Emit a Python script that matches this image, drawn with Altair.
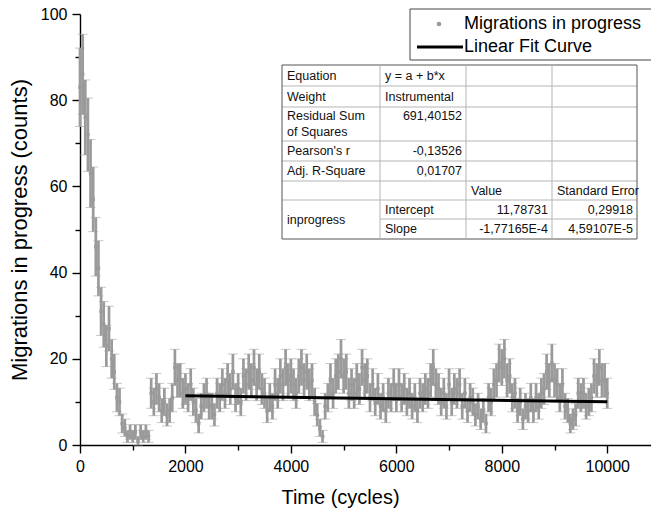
import altair as alt
import pandas as pd

# ---------------- data ----------------
time_cycles = [
    0, 50, 100, 150, 200, 250, 300, 350, 400, 450,
    500, 550, 600, 650, 700, 750, 800, 850, 900, 950,
    1000, 1050, 1100, 1150, 1200, 1250, 1300, 1350, 1400, 1450,
    1500, 1550, 1600, 1650, 1700, 1750, 1800, 1850, 1900, 1950,
    2000, 2050, 2100, 2150, 2200, 2250, 2300, 2350, 2400, 2450,
    2500, 2550, 2600, 2650, 2700, 2750, 2800, 2850, 2900, 2950,
    3000, 3050, 3100, 3150, 3200, 3250, 3300, 3350, 3400, 3450,
    3500, 3550, 3600, 3650, 3700, 3750, 3800, 3850, 3900, 3950,
    4000, 4050, 4100, 4150, 4200, 4250, 4300, 4350, 4400, 4450,
    4500, 4550, 4600, 4650, 4700, 4750, 4800, 4850, 4900, 4950,
    5000, 5050, 5100, 5150, 5200, 5250, 5300, 5350, 5400, 5450,
    5500, 5550, 5600, 5650, 5700, 5750, 5800, 5850, 5900, 5950,
    6000, 6050, 6100, 6150, 6200, 6250, 6300, 6350, 6400, 6450,
    6500, 6550, 6600, 6650, 6700, 6750, 6800, 6850, 6900, 6950,
    7000, 7050, 7100, 7150, 7200, 7250, 7300, 7350, 7400, 7450,
    7500, 7550, 7600, 7650, 7700, 7750, 7800, 7850, 7900, 7950,
    8000, 8050, 8100, 8150, 8200, 8250, 8300, 8350, 8400, 8450,
    8500, 8550, 8600, 8650, 8700, 8750, 8800, 8850, 8900, 8950,
    9000, 9050, 9100, 9150, 9200, 9250, 9300, 9350, 9400, 9450,
    9500, 9550, 9600, 9650, 9700, 9750, 9800, 9850, 9900, 9950,
    10000,
]

in_progress = [
    83, 86, 76, 72, 63, 57, 46, 41, 31, 28,
    23, 27, 20, 17, 11, 10, 5, 4, 2, 3,
    2, 3, 1, 3, 2, 3, 2, 12, 10, 13,
    11, 8, 10, 7, 8, 11, 18, 15, 15, 12,
    13, 11, 14, 10, 8, 5, 9, 11, 12, 9,
    9, 7, 12, 11, 14, 12, 15, 13, 17, 11,
    13, 10, 16, 14, 17, 15, 18, 14, 17, 13,
    12, 8, 11, 9, 14, 12, 16, 14, 18, 15,
    16, 14, 12, 16, 18, 15, 17, 14, 15, 10,
    7, 4, 2, 9, 11, 15, 12, 16, 17, 20,
    16, 17, 12, 14, 12, 15, 13, 18, 15, 16,
    11, 14, 10, 13, 9, 11, 8, 12, 11, 14,
    11, 14, 11, 13, 10, 12, 9, 11, 8, 12,
    11, 13, 12, 15, 18, 14, 13, 10, 12, 9,
    14, 10, 13, 12, 14, 9, 12, 8, 11, 10,
    7, 9, 6, 8, 5, 11, 10, 14, 15, 19,
    18, 20, 15, 16, 11, 12, 8, 10, 6, 9,
    8, 11, 8, 11, 9, 12, 13, 17, 15, 19,
    15, 14, 11, 14, 9, 8, 5, 6, 7, 12,
    11, 12, 9, 10, 11, 16, 15, 18, 15, 15,
    12,
]

in_progress_err = [
    9.1, 9.3, 8.7, 8.5, 7.9, 7.5, 6.8, 6.4, 5.6, 5.3,
    4.8, 5.2, 4.5, 4.1, 3.3, 3.2, 2.2, 2.0, 1.4, 1.7,
    1.4, 1.7, 1.0, 1.7, 1.4, 1.7, 1.4, 3.5, 3.2, 3.6,
    3.3, 2.8, 3.2, 2.6, 2.8, 3.3, 4.2, 3.9, 3.9, 3.5,
    3.6, 3.3, 3.7, 3.2, 2.8, 2.2, 3.0, 3.3, 3.5, 3.0,
    3.0, 2.6, 3.5, 3.3, 3.7, 3.5, 3.9, 3.6, 4.1, 3.3,
    3.6, 3.2, 4.0, 3.7, 4.1, 3.9, 4.2, 3.7, 4.1, 3.6,
    3.5, 2.8, 3.3, 3.0, 3.7, 3.5, 4.0, 3.7, 4.2, 3.9,
    4.0, 3.7, 3.5, 4.0, 4.2, 3.9, 4.1, 3.7, 3.9, 3.2,
    2.6, 2.0, 1.4, 3.0, 3.3, 3.9, 3.5, 4.0, 4.1, 4.5,
    4.0, 4.1, 3.5, 3.7, 3.5, 3.9, 3.6, 4.2, 3.9, 4.0,
    3.3, 3.7, 3.2, 3.6, 3.0, 3.3, 2.8, 3.5, 3.3, 3.7,
    3.3, 3.7, 3.3, 3.6, 3.2, 3.5, 3.0, 3.3, 2.8, 3.5,
    3.3, 3.6, 3.5, 3.9, 4.2, 3.7, 3.6, 3.2, 3.5, 3.0,
    3.7, 3.2, 3.6, 3.5, 3.7, 3.0, 3.5, 2.8, 3.3, 3.2,
    2.6, 3.0, 2.4, 2.8, 2.2, 3.3, 3.2, 3.7, 3.9, 4.4,
    4.2, 4.5, 3.9, 4.0, 3.3, 3.5, 2.8, 3.2, 2.4, 3.0,
    2.8, 3.3, 2.8, 3.3, 3.0, 3.5, 3.6, 4.1, 3.9, 4.4,
    3.9, 3.7, 3.3, 3.7, 3.0, 2.8, 2.2, 2.4, 2.6, 3.5,
    3.3, 3.5, 3.0, 3.2, 3.3, 4.0, 3.9, 4.2, 3.9, 3.9,
    3.5,
]

fit_x = [2000, 10000]
fit_y = [11.43, 10.02]

legend_labels = ["Migrations in progress", "Linear Fit Curve"]

table_rows = [
    ["Equation", "y = a + b*x", "", ""],
    ["Weight", "Instrumental", "", ""],
    ["Residual Sum\nof Squares", "691,40152", "", ""],
    ["Pearson's r", "-0,13526", "", ""],
    ["Adj. R-Square", "0,01707", "", ""],
    ["", "", "Value", "Standard Error"],
    ["inprogress", "Intercept", "11,78731", "0,29918"],
    ["", "Slope", "-1,77165E-4", "4,59107E-5"],
]
right_cells = {(2, 1), (3, 1), (4, 1), (6, 2), (6, 3), (7, 2), (7, 3)}

# ---------------- layout / style ----------------
FONT = "Liberation Sans"
GRAY = "#9a9a9a"
CAP = "#b0b0b0"
W, H = 571, 431
PAD = {"left": 80, "top": 14, "right": 0, "bottom": 69}
XMAX = 10830

df = pd.DataFrame({"t": time_cycles, "v": in_progress, "e": in_progress_err})
df["lo"] = df["v"] - df["e"]
df["hi"] = df["v"] + df["e"]
fit_df = pd.DataFrame({"t": fit_x, "v": fit_y})

xsc = alt.Scale(domain=[0, XMAX], nice=False, zero=False)
ysc = alt.Scale(domain=[0, 100], nice=False, zero=False)

x_axis = alt.Axis(
    title="Time (cycles)",
    values=list(range(0, 10001, 1000)),
    format="d",
    labelExpr="datum.value % 2000 === 0 ? datum.label : ''",
    tickSize={"condition": {"test": "datum.value % 2000 === 0", "value": 8}, "value": 5},
    labelPadding=5,
    titlePadding=13,
    titleX=260,
    labelFlush=False,
    labelOverlap=False,
    titleFontSize=20,
)
y_axis = alt.Axis(
    title="Migrations in progress (counts)",
    values=list(range(0, 101, 10)),
    format="d",
    labelExpr="datum.value % 20 === 0 ? datum.label : ''",
    tickSize={"condition": {"test": "datum.value % 20 === 0", "value": 8}, "value": 5},
    labelPadding=5,
    titlePadding=9,
    labelOverlap=False,
    titleFontSize=22,
)

base = alt.Chart(df)
rules = base.mark_rule(color=GRAY, strokeWidth=2.7).encode(
    x=alt.X("t:Q", scale=xsc, axis=x_axis),
    y=alt.Y("lo:Q", scale=ysc, axis=y_axis),
    y2="hi:Q",
)
caps_lo = base.mark_tick(orient="horizontal", size=10, thickness=1, color=CAP).encode(
    x=alt.X("t:Q", scale=xsc), y=alt.Y("lo:Q", scale=ysc)
)
caps_hi = base.mark_tick(orient="horizontal", size=10, thickness=1, color=CAP).encode(
    x=alt.X("t:Q", scale=xsc), y=alt.Y("hi:Q", scale=ysc)
)
pts = base.mark_square(color=GRAY, size=12, opacity=1).encode(
    x=alt.X("t:Q", scale=xsc), y=alt.Y("v:Q", scale=ysc)
)
fit = alt.Chart(fit_df).mark_line(color="black", strokeWidth=3).encode(
    x=alt.X("t:Q", scale=xsc), y=alt.Y("v:Q", scale=ysc)
)
data_layer = alt.layer(caps_lo, caps_hi, rules, pts, fit)

# ---------------- legend box and fit table (pixel overlay) ----------------
OX, OY = PAD["left"], PAD["top"]
leg_box = pd.DataFrame({"x": [410 - OX], "x2": [660 - OX], "y": [9 - OY], "y2": [60 - OY]})
leg_text = pd.DataFrame({"x": [464 - OX, 464 - OX], "y": [24 - OY, 47 - OY], "txt": legend_labels})
leg_dot = pd.DataFrame({"x": [439 - OX], "y": [24 - OY]})
leg_line = pd.DataFrame({"x": [417 - OX], "x2": [463 - OX], "y": [47 - OY]})

col_edges = [282, 380, 466, 552, 637]
row_edges = [65, 86, 107, 141, 161, 181, 200, 219, 239]

borders = []
for i, ry in enumerate(row_edges):
    outer = i in (0, len(row_edges) - 1)
    x_start = col_edges[1] if i == 7 else col_edges[0]
    borders.append({"x": x_start - OX, "x2": col_edges[-1] - OX, "y": ry - OY, "y2": ry - OY,
                    "c": "outer" if outer else "inner"})
for j, cx in enumerate(col_edges):
    outer = j in (0, len(col_edges) - 1)
    borders.append({"x": cx - OX, "x2": cx - OX, "y": row_edges[0] - OY, "y2": row_edges[-1] - OY,
                    "c": "outer" if outer else "inner"})
borders_df = pd.DataFrame(borders)

cells = []
for r, row in enumerate(table_rows):
    for c, txt in enumerate(row):
        if not txt:
            continue
        top, bot = row_edges[r], row_edges[r + 1]
        if r == 6 and c == 0:
            bot = row_edges[8]
        right = (r, c) in right_cells
        for k, line in enumerate(txt.split("\n")):
            yy = top + 9 + k * 16 if r == 2 else (top + bot) / 2
            cells.append({
                "x": (col_edges[c + 1] - 4 if right else col_edges[c] + 5) - OX,
                "y": yy - OY,
                "txt": line,
                "al": "right" if right else "left",
            })
cells_df = pd.DataFrame(cells)


def px(f):
    return alt.X(f, scale=None, axis=None)


def py(f):
    return alt.Y(f, scale=None, axis=None)


box = alt.Chart(leg_box).mark_rect(fill="white", stroke="#444", strokeWidth=1).encode(
    x=px("x:Q"), x2="x2:Q", y=py("y:Q"), y2="y2:Q")
ltxt = alt.Chart(leg_text).mark_text(align="left", baseline="middle", font=FONT, fontSize=18,
                                     color="black").encode(x=px("x:Q"), y=py("y:Q"), text="txt:N")
ldot = alt.Chart(leg_dot).mark_circle(size=22, color=GRAY, opacity=1).encode(x=px("x:Q"), y=py("y:Q"))
lline = alt.Chart(leg_line).mark_rule(color="black", strokeWidth=3).encode(
    x=px("x:Q"), x2="x2:Q", y=py("y:Q"))

tbg = alt.Chart(pd.DataFrame({"x": [col_edges[0] - OX], "x2": [col_edges[-1] - OX],
                              "y": [row_edges[0] - OY], "y2": [row_edges[-1] - OY]})).mark_rect(
    fill="white").encode(x=px("x:Q"), x2="x2:Q", y=py("y:Q"), y2="y2:Q")
tlines = alt.Chart(borders_df).mark_rule(strokeWidth=1).encode(
    x=px("x:Q"), x2="x2:Q", y=py("y:Q"), y2="y2:Q",
    color=alt.Color("c:N", scale=alt.Scale(domain=["outer", "inner"], range=["#555555", "#b5b5b5"]),
                    legend=None),
)
ttxt_l = alt.Chart(cells_df).transform_filter("datum.al === 'left'").mark_text(
    align="left", baseline="middle", font=FONT, fontSize=12.5, color="#111").encode(
    x=px("x:Q"), y=py("y:Q"), text="txt:N")
ttxt_r = alt.Chart(cells_df).transform_filter("datum.al === 'right'").mark_text(
    align="right", baseline="middle", font=FONT, fontSize=12.5, color="#111").encode(
    x=px("x:Q"), y=py("y:Q"), text="txt:N")

overlay = alt.layer(box, ltxt, ldot, lline, tbg, tlines, ttxt_l, ttxt_r)

chart = alt.layer(data_layer, overlay).resolve_scale(
    x="independent", y="independent", color="independent"
).properties(
    width=W, height=H, padding=PAD, autosize=alt.AutoSizeParams(type="none"),
    background="white",
).configure_view(stroke="transparent").configure_axis(
    grid=False,
    domainColor="black", domainWidth=1.4,
    tickColor="black", tickWidth=1.4,
    labelFont=FONT, labelFontSize=16, labelColor="black",
    titleFont=FONT, titleFontWeight="normal", titleColor="black",
)

chart.save("out.html", embed_options={"renderer": "svg", "actions": False})
